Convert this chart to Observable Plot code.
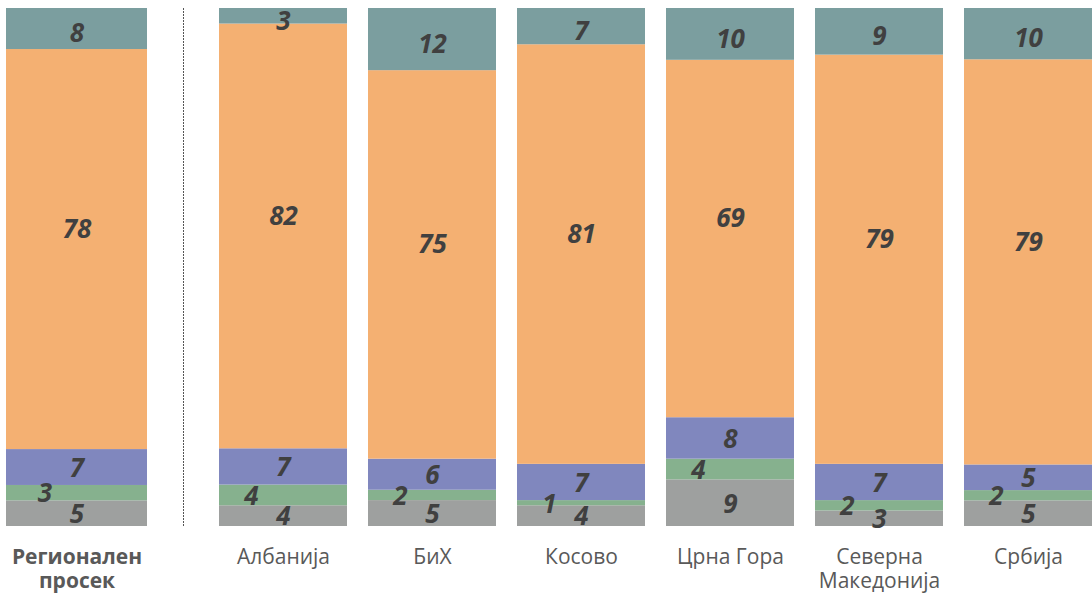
<!DOCTYPE html>
<html><head><meta charset="utf-8">
<script src="https://cdn.jsdelivr.net/npm/d3@7"></script>
<script src="https://cdn.jsdelivr.net/npm/@observablehq/plot@0.6"></script>
<style>
html,body{margin:0;padding:0;background:#fff;overflow:hidden;}
#chart{display:flex;width:1092px;height:594px;}
#chart svg{display:block;flex:none;}
</style></head><body><div id="chart"></div>
<script>
// Categories and tick labels
const regionalCategory = ["Регионален просек"];
const regionalTickLabels = ["Регионален\nпросек"];
const countries = ["Албанија", "БиХ", "Косово", "Црна Гора", "Северна Македонија", "Србија"];
const countryTickLabels = ["Албанија", "БиХ", "Косово", "Црна Гора", "Северна\nМакедонија", "Србија"];
const allCategories = [...regionalCategory, ...countries];

// Series, bottom to top
const seriesNames = ["Серија 1", "Серија 2", "Серија 3", "Серија 4", "Серија 5"];
const series1 = [5, 4, 5, 4, 9, 3, 5];
const series2 = [3, 4, 2, 1, 4, 2, 2];
const series3 = [7, 7, 6, 7, 8, 7, 5];
const series4 = [78, 82, 75, 81, 69, 79, 79];
const series5 = [8, 3, 12, 7, 10, 9, 10];
const seriesValues = [series1, series2, series3, series4, series5];
const seriesColors = ["#9ea09f", "#86b18e", "#8087be", "#f4b072", "#7b9e9f"];

const rows = [];
allCategories.forEach((c, i) => {
  seriesNames.forEach((s, j) => rows.push({category: c, series: s, value: seriesValues[j][i]}));
});

const labelStyle = {fill: "#404040", fontSize: 26, fontWeight: "bold", fontStyle: "italic"};
// per-series label nudges (dx, dy) as in the reference
const labelNudge = [[0, 1], [-32, 1], [0, 1], [0, -20], [0, 5]];

function marksFor(data, labels, domain, bold, extra) {
  const stack = (o) => Plot.stackY({x: "category", y: "value", z: "series", order: seriesNames, offset: "normalize", ...o});
  return [
    Plot.barY(data, stack({fill: "series", inset: 0})),
    ...seriesNames.map((s, j) => Plot.text(data, stack({
      text: d => d.series === s ? d.value : null, ...labelStyle, dx: labelNudge[j][0], dy: labelNudge[j][1]}))),
    Plot.axisX({tickSize: 0, tickPadding: 21, fontSize: 21, lineHeight: 1.12, fontWeight: bold ? "bold" : "normal",
      color: "#595959", tickFormat: d => labels[domain.indexOf(d)]}),
    ...extra
  ];
}

const common = {
  height: 594, marginTop: 8, marginBottom: 68,
  y: {axis: null, domain: [0, 1]},
  color: {domain: seriesNames, range: seriesColors},
  style: {fontFamily: "'Open Sans', sans-serif", overflow: "visible", background: "transparent"}
};

const left = Plot.plot({
  ...common,
  width: 184, marginLeft: 0, marginRight: 1,
  x: {domain: regionalCategory, range: [6, 147], padding: 0, label: null},
  marks: marksFor(rows.filter(d => regionalCategory.includes(d.category)), regionalTickLabels, regionalCategory, true,
    [Plot.frame({anchor: "right", stroke: "#555", strokeDasharray: "1,2"})])
});

const right = Plot.plot({
  ...common,
  width: 908, marginLeft: 0, marginRight: 0,
  x: {domain: countries, range: [35, 908], paddingInner: 0.141, paddingOuter: 0, label: null},
  marks: marksFor(rows.filter(d => countries.includes(d.category)), countryTickLabels, countries, false, [])
});

document.getElementById("chart").append(left, right);
</script></body></html>
